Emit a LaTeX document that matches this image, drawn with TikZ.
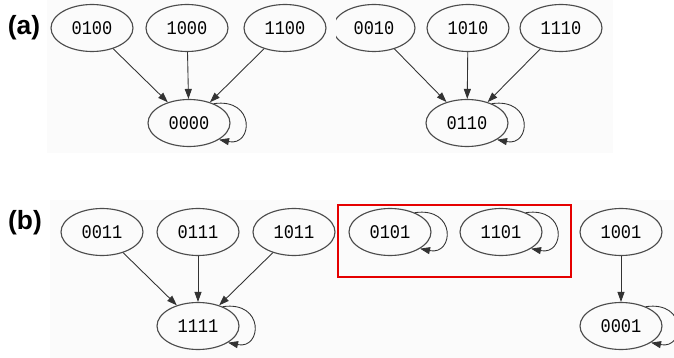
\documentclass[tikz,border=0pt]{standalone}
\usepackage{fontspec}
\newfontfamily\statefont[FakeStretch=0.88]{Liberation Mono}
\newfontfamily\tagfont{Liberation Sans}
\usetikzlibrary{shapes.geometric,arrows.meta}
\tikzset{
	state/.style={ellipse, draw=black!70, line width=0.65pt, minimum width=1.64cm, minimum height=0.94cm, inner sep=0pt, font=\statefont\fontsize{11}{11}\selectfont},
	edge/.style={draw=black!80, line width=0.5pt, -{Triangle[length=2mm,width=1.4mm]}},
	panel/.style={fill=black!1.5, draw=none},
	tag/.style={font=\tagfont\bfseries\fontsize{15}{15}\selectfont},
	redbox/.style={draw=red!90!black, line width=1.7pt}
}
\newcommand\selfloop[1]{\draw[edge] (#1.38) .. controls +(42,-6) and +(34,7) .. (#1.-29);}

\begin{document}
\begin{tikzpicture}[x=0.02cm, y=-0.02cm]
			%%%%% START %%%%%
			\useasboundingbox (0, 0) rectangle (674, 358);
			\fill[white] (0, 0) rectangle (674, 358);
			\path[panel] (47, 0) rectangle (613, 153);
			\path[panel] (50, 200) rectangle (674, 358);
			
			\node[tag] (taga) at (24, 28) {(a)};
			\node[tag] (tagb) at (25, 223) {(b)};
			
			% (a) left
			\node[state] (n0100) at (92, 28) {0100};
			\node[state] (n1000) at (187, 28) {1000};
			\node[state] (n1100) at (285, 28) {1100};
			\node[state] (n0000) at (189, 123) {0000};
			\draw[edge] (n0100) -- (n0000);
			\draw[edge] (n1000) -- (n0000);
			\draw[edge] (n1100) -- (n0000);
			\selfloop{n0000}
			
			% (a) right
			\begin{scope}
				\clip (336, 0) rectangle (430, 60);
				\node[state] (n0010) at (374, 28) {0010};
			\end{scope}
			\node[state] (n1010) at (468, 28) {1010};
			\node[state] (n1110) at (561, 28) {1110};
			\node[state] (n0110) at (467, 123) {0110};
			\draw[edge] (n0010) -- (n0110);
			\draw[edge] (n1010) -- (n0110);
			\draw[edge] (n1110) -- (n0110);
			\selfloop{n0110}
			
			% (b)
			\node[state] (n0011) at (102, 232) {0011};
			\node[state] (n0111) at (198, 232) {0111};
			\node[state] (n1011) at (294, 232) {1011};
			\node[state] (n1111) at (198, 326) {1111};
			\draw[edge] (n0011) -- (n1111);
			\draw[edge] (n0111) -- (n1111);
			\draw[edge] (n1011) -- (n1111);
			\selfloop{n1111}
			
			\draw[redbox] (338, 205) rectangle (571, 277);
			\node[state] (n0101) at (390, 232) {0101};
			\node[state] (n1101) at (501, 232) {1101};
			\selfloop{n0101}
			\selfloop{n1101}
			
			\node[state] (n1001) at (621, 232) {1001};
			\node[state] (n0001) at (621, 326) {0001};
			\draw[edge] (n1001) -- (n0001);
			\selfloop{n0001}
			%%%%% END %%%%%
\end{tikzpicture}
\end{document}
